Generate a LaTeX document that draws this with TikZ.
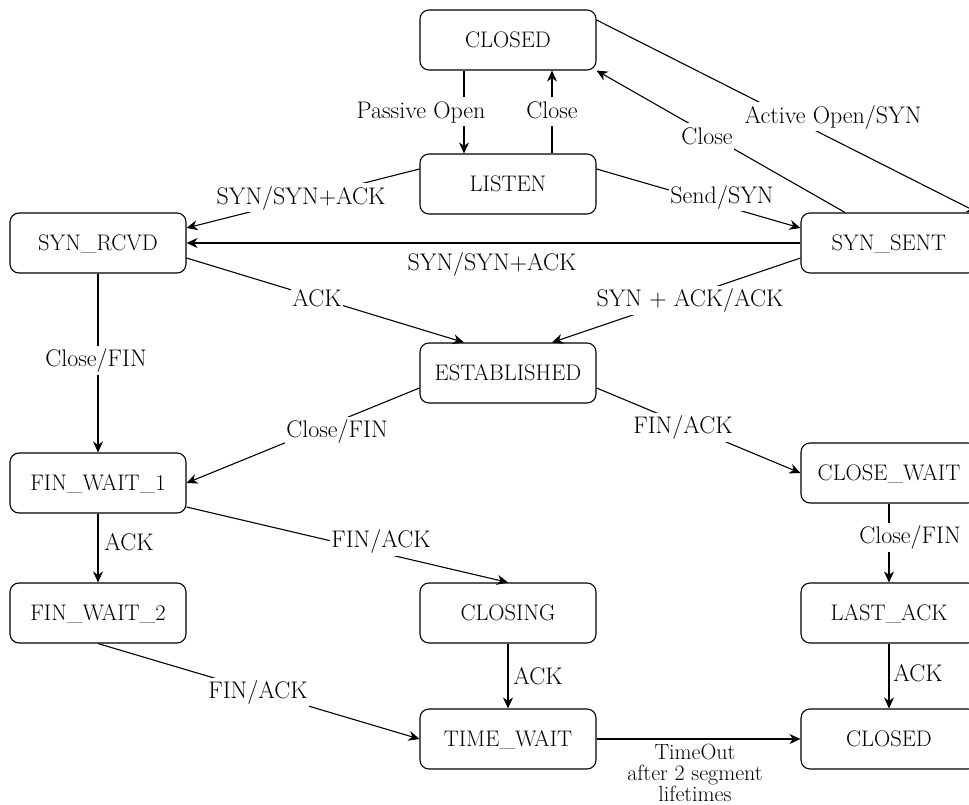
\documentclass[tikz,border=0pt]{standalone}
\usepackage{fontspec}
\usetikzlibrary{arrows.meta}

\tikzset{
  lbl/.style={font=\fontsize{24}{24}\selectfont, fill=white, inner sep=1pt,
              text height=20pt, text depth=7pt},
  state/.style={draw, rounded corners=9pt, minimum width=176pt, minimum height=60pt,
                inner sep=0pt, line width=1.1pt, font=\fontsize{22.5}{22.5}\selectfont,
                text height=19pt, text depth=3.6pt},
  tr/.style={draw, line width=1.1pt, -{Stealth[length=11pt, width=10pt, inset=3.5pt]}},
}

\begin{document}
\begin{tikzpicture}[x=1pt, y=-1pt]
\useasboundingbox (0,0) rectangle (969,805);
\clip (0,0) rectangle (969,805);

% states
\node[state] (closedA)   at (508,40)  {CLOSED};
\node[state] (listen)    at (508,184) {LISTEN};
\node[state] (synrcvd)   at (98,243)  {SYN\_RCVD};
\node[state] (synsent)   at (889,243) {SYN\_SENT};
\node[state] (estab)     at (508,373) {ESTABLISHED};
\node[state] (fwa)       at (98,483)  {FIN\_WAIT\_1};
\node[state] (closewait) at (889,473) {CLOSE\_WAIT};
\node[state] (fwb)       at (98,613)  {FIN\_WAIT\_2};
\node[state] (closing)   at (508,613) {CLOSING};
\node[state] (lastack)   at (889,613) {LAST\_ACK};
\node[state] (timewait)  at (508,739) {TIME\_WAIT};
\node[state] (closedB)   at (889,739) {CLOSED};

% transitions
\path[tr] ([xshift=-44pt]closedA.south) -- ([xshift=-44pt]listen.north);
\path[tr] ([xshift=44pt]listen.north) -- ([xshift=44pt]closedA.south);
\path[tr] ([xshift=-44pt]synsent.north) -- (closedA.south east);
\path[tr] ([yshift=20pt]closedA.east) -- (synsent.north east);
\path[tr] ([yshift=15pt]listen.west) -- ([yshift=15pt]synrcvd.east);
\path[tr] ([yshift=15pt]listen.east) -- ([yshift=15pt]synsent.west);
\path[tr] (synsent.west) -- (synrcvd.east);
\path[tr] ([yshift=-15pt]synrcvd.east) -- ([xshift=-44pt]estab.north);
\path[tr] ([yshift=-15pt]synsent.west) -- ([xshift=44pt]estab.north);
\path[tr] (synrcvd.south) -- (fwa.north);
\path[tr] ([yshift=-15pt]estab.west) -- (fwa.east);
\path[tr] ([yshift=-15pt]estab.east) -- (closewait.west);
\path[tr] (fwa.south) -- (fwb.north);
\path[tr] ([yshift=-24pt]fwa.east) -- (closing.north);
\path[tr] (fwb.south) -- (timewait.west);
\path[tr] (closing.south) -- (timewait.north);
\path[tr] (closewait.south) -- (lastack.north);
\path[tr] (lastack.south) -- (closedB.north);
\path[tr] (timewait.east) -- (closedB.west);

% transition labels
\node[lbl] (l1)  at (421,112) {Passive Open};
\node[lbl] (l2)  at (552,112) {Close};
\node[lbl] (l3)  at (707,138) {Close};
\node[lbl] (l4)  at (833,117) {Active Open/SYN};
\node[lbl] (l5)  at (301,198) {SYN/SYN+ACK};
\node[lbl] (l6)  at (722,197) {Send/SYN};
\node[lbl] (l7)  at (492,264) {SYN/SYN+ACK};
\node[lbl] (l8)  at (317,300) {ACK};
\node[lbl] (l9)  at (690,300) {SYN + ACK/ACK};
\node[lbl] (l10) at (96,360)  {Close/FIN};
\node[lbl] (l11) at (337,431) {Close/FIN};
\node[lbl] (l12) at (683,427) {FIN/ACK};
\node[lbl] (l13) at (129,544) {ACK};
\node[lbl] (l14) at (381,541) {FIN/ACK};
\node[lbl] (l15) at (258,692) {FIN/ACK};
\node[lbl] (l16) at (538,678) {ACK};
\node[lbl] (l17) at (910,537) {Close/FIN};
\node[lbl] (l18) at (918,675) {ACK};
\node[font=\fontsize{22}{21}\selectfont, align=center, inner sep=0pt, anchor=north]
  (l19) at (695,744) {TimeOut\\after 2 segment\\lifetimes};
\end{tikzpicture}
\end{document}
